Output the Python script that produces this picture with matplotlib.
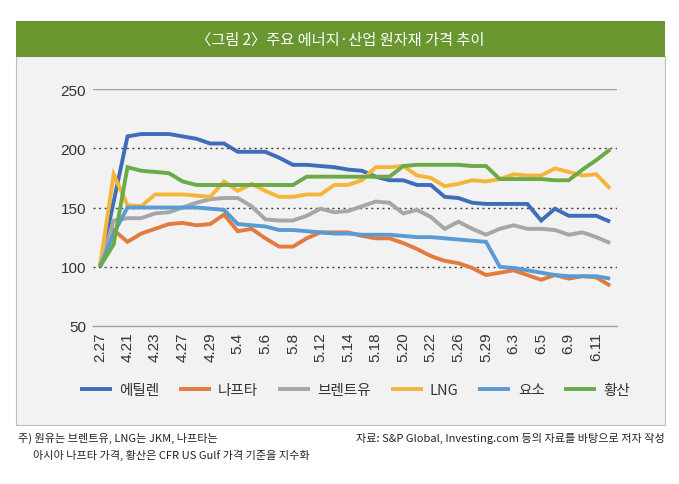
import matplotlib
matplotlib.use("Agg")
import matplotlib.pyplot as plt
from matplotlib.patches import Rectangle

# ---- data ----
dates = ['2.27', '4.20', '4.21', '4.22', '4.23', '4.26', '4.27', '4.28', '4.29', '4.30',
         '5.4', '5.5', '5.6', '5.7', '5.8', '5.11', '5.12', '5.13', '5.14', '5.15',
         '5.18', '5.19', '5.20', '5.21', '5.22', '5.25', '5.26', '5.27', '5.29', '6.1',
         '6.3', '6.4', '6.5', '6.8', '6.9', '6.10', '6.11', '6.12']

ethylene = [100, 155, 210, 212, 212, 212, 210, 208, 204, 204, 197, 197, 197, 192, 186, 186,
            185, 184, 182, 181, 176, 173, 173, 169, 169, 159, 158, 154, 153, 153, 153, 153,
            139, 149, 143, 143, 143, 138]
naphtha = [100, 131, 121, 128, 132, 136, 137, 135, 136, 144, 130, 132, 124, 117, 117, 124,
           129, 129, 129, 126, 124, 124, 120, 115, 109, 105, 103, 99, 93, 95, 97, 93,
           89, 93, 90, 92, 91, 84]
brent = [100, 139, 141, 141, 145, 146, 150, 154, 157, 158, 158, 151, 140, 139, 139, 143,
         149, 146, 147, 151, 155, 154, 145, 148, 142, 132, 138, 132, 127, 132, 135, 132,
         132, 131, 127, 129, 125, 120]
lng = [100, 178, 152, 151, 161, 161, 161, 160, 159, 172, 164, 170, 164, 159, 159, 161,
       161, 169, 169, 173, 184, 184, 185, 177, 175, 168, 170, 173, 172, 174, 178, 177,
       177, 183, 180, 177, 178, 166]
urea = [100, 128, 150, 150, 150, 150, 150, 150, 149, 148, 136, 135, 134, 131, 131, 130,
        129, 128, 128, 127, 127, 127, 126, 125, 125, 124, 123, 122, 121, 100, 99, 97,
        95, 93, 92, 92, 92, 90]
sulfuric = [100, 119, 184, 181, 180, 179, 172, 169, 169, 169, 169, 169, 169, 169, 169, 176,
            176, 176, 176, 176, 176, 176, 185, 186, 186, 186, 186, 185, 185, 174, 174, 174,
            174, 173, 173, 182, 190, 199]

series_names = ['에틸렌', '나프타', '브렌트유', 'LNG', '요소', '황산']
series_values = [ethylene, naphtha, brent, lng, urea, sulfuric]
series_colors = ['#3F6DB8', '#E27B3E', '#A6A6A6', '#F4B63A', '#5B9BD5', '#6AAA48']

y_ticks = [50, 100, 150, 200, 250]

title_text = '〈그림 2〉주요 에너지·산업 원자재 가격 추이'
note_line1 = '주) 원유는 브렌트유, LNG는 JKM, 나프타는'
note_line2 = '아시아 나프타 가격, 황산은 CFR US Gulf 가격 기준을 지수화'
source_text = '자료: S&P Global, Investing.com 등의 자료를 바탕으로 저자 작성'

KR = ['Noto Sans CJK KR', 'DejaVu Sans']
LAT = ['Liberation Sans', 'DejaVu Sans']

W, H = 679, 485
fig = plt.figure(figsize=(W / 100, H / 100), dpi=100)
fig.patch.set_facecolor('white')

def fx(px):
    return px / W

def fy(py):
    return 1 - py / H

# panel
fig.patches.append(Rectangle((fx(16), fy(426)), fx(665) - fx(16), fy(57) - fy(426),
                             transform=fig.transFigure, facecolor='#F2F2F2',
                             edgecolor='#BDBDBD', linewidth=0.8, zorder=-3))
# title bar
fig.patches.append(Rectangle((fx(16), fy(58)), fx(665) - fx(16), fy(22) - fy(58),
                             transform=fig.transFigure, facecolor='#6A9630',
                             edgecolor='none', zorder=-2))
fig.text(fx(340), fy(40), title_text, color='white', fontsize=11, family=KR,
         ha='center', va='center', fontweight='medium')

ax = fig.add_axes([fx(93), fy(327), fx(617) - fx(93), fy(90) - fy(327)])
ax.set_zorder(2)
ax.set_facecolor('none')
x = list(range(len(dates)))
for name, vals, col in zip(series_names, series_values, series_colors):
    ax.plot(x, vals, color=col, linewidth=2.8, label=name, solid_joinstyle='miter',
            solid_capstyle='butt', zorder=3)

ax.set_xlim(-0.5, len(dates) - 0.5)
ax.set_ylim(50, 250)
ax.set_yticks(y_ticks)
ax.set_yticklabels([str(v) for v in y_ticks], family=LAT, fontsize=11, color='#333333')
ax.set_xticks(x[::2])
ax.set_xticklabels(dates[::2], rotation=90, family=LAT, fontsize=11, color='#333333')
ax.tick_params(axis='both', length=0)
ax.tick_params(axis='y', pad=5)
ax.tick_params(axis='x', pad=4)

for s in ['top', 'right', 'left']:
    ax.spines[s].set_visible(False)
ax.spines['bottom'].set_color('#A0A0A0')
ax.spines['bottom'].set_linewidth(1.0)
ax.axhline(250, color='#A0A0A0', linewidth=1.0, zorder=1)
for v in [100, 150, 200]:
    ax.axhline(v, color='#444444', linewidth=1.0, linestyle=(0, (1.5, 2.5)), zorder=1)

leg = ax.legend(loc='center', bbox_to_anchor=(0.5, (fy(391) - fy(327)) / (fy(90) - fy(327))),
                ncol=6, frameon=False, prop={'family': KR, 'size': 10.5},
                handlelength=2.2, handletextpad=0.5, columnspacing=1.35)
for t in leg.get_texts():
    t.set_color('#333333')

fig.text(fx(18), fy(438), note_line1, fontsize=8, family=KR, ha='left', va='center',
         color='#222222')
fig.text(fx(33), fy(455), note_line2, fontsize=8, family=KR, ha='left', va='center',
         color='#222222')
fig.text(fx(665), fy(438), source_text, fontsize=8, family=KR, ha='right', va='center',
         color='#222222')

fig.savefig('out.png', dpi=100, facecolor='white')
